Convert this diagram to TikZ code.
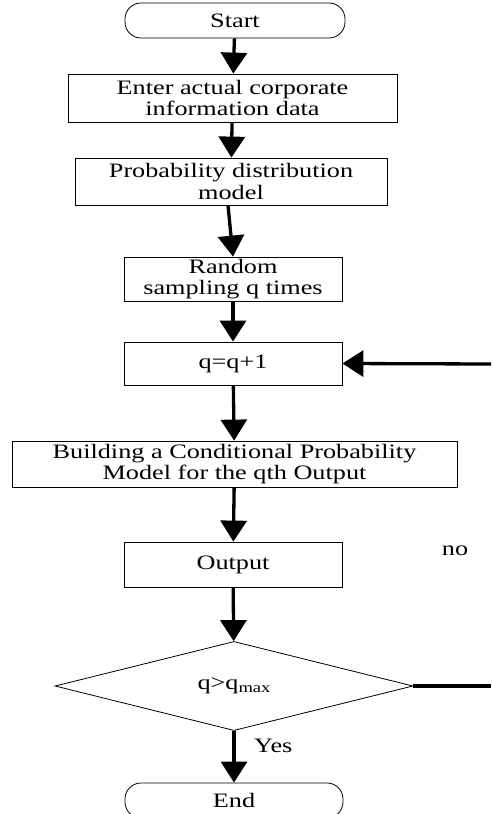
\documentclass[tikz,border=0pt]{standalone}
\usepackage{fontspec}
\setmainfont[FakeStretch=1.28]{Liberation Serif}
\usetikzlibrary{arrows.meta,shapes.geometric,calc}
\begin{document}
\begin{tikzpicture}[x=1pt,y=-1pt,
  txt/.style={font=\fontsize{20.5}{21.5}\selectfont},
  box/.style={draw,line width=0.8pt,inner sep=0pt,align=center,txt},
  term/.style={box,rounded corners=16pt},
  flow/.style={line width=3.3pt,-{Triangle[length=21pt,width=26pt]}},
  plain/.style={line width=3.3pt},
  lbl/.style={txt,inner sep=0pt}]
\useasboundingbox (0,0) rectangle (491,814);
\clip (0,0) rectangle (491,814);
\node[term,minimum width=220pt,minimum height=35pt] (start) at (235,20.5) {Start};
\node[box,minimum width=329pt,minimum height=48pt] (b1) at (232.5,98) {Enter actual corporate\\information data};
\node[box,minimum width=312pt,minimum height=47pt] (b2) at (231,181.5) {Probability distribution\\model};
\node[box,minimum width=218pt,minimum height=44pt] (b3) at (233,279) {Random\\sampling q times};
\node[box,minimum width=218pt,minimum height=43pt] (b4) at (233,363.5) {q=q+1};
\node[box,minimum width=445pt,minimum height=46pt] (b5) at (234.5,464) {Building a Conditional Probability\\Model for the qth Output};
\node[box,minimum width=218pt,minimum height=45pt] (b6) at (233,564.5) {Output};
\node[box,shape=diamond,minimum width=358pt,minimum height=86pt] (dec) at (234,686) {q>q\raisebox{-3pt}{\fontsize{14.5}{14.5}\selectfont max}};
\node[term,minimum width=218pt,minimum height=35pt] (end) at (234,800.5) {End};
\coordinate (rtop) at (491,364);
\coordinate (rbot) at (491,686);
\draw[flow] (start) -- (b1);
\draw[flow] (b1) -- (b2);
\draw[flow] ($(b2.south)+(-3,0)$) -- (b3.north);
\draw[flow] (b3) -- (b4);
\draw[flow] (b4) -- (b5);
\draw[flow] (b5) -- (b6);
\draw[flow] (b6) -- (dec);
\draw[flow] (dec) -- (end);
\draw[plain] (dec.east) -- (rbot);
\draw[flow] (rtop) -- (b4.east);
\node[lbl,anchor=west] (yes) at (254,746) {Yes};
\node[lbl] (no) at (455,551) {no};
\end{tikzpicture}
\end{document}
